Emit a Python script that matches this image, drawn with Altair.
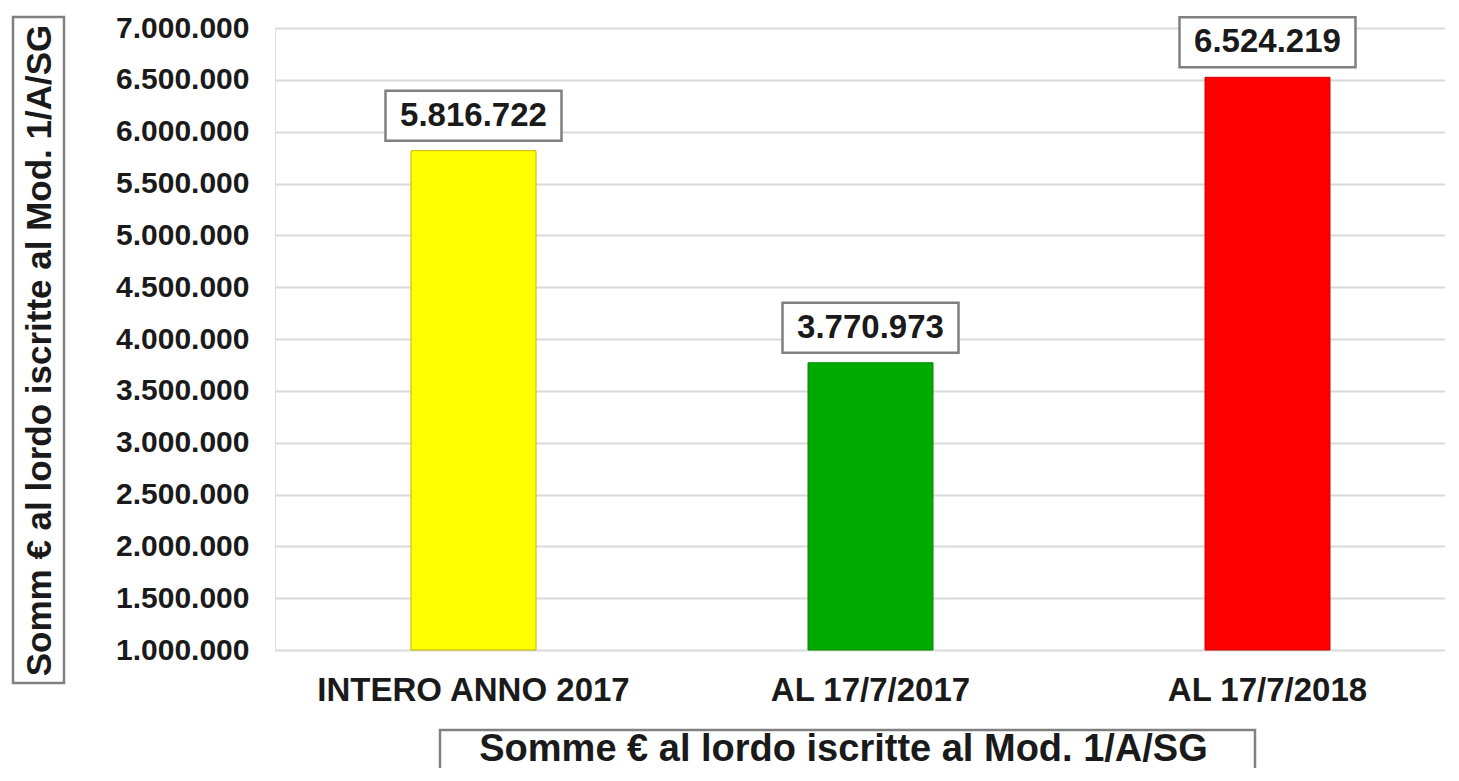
import altair as alt
import pandas as pd

categories = ["INTERO ANNO 2017", "AL 17/7/2017", "AL 17/7/2018"]
values = [5816722, 3770973, 6524219]
bar_colors = ["#FFFF00", "#00AA00", "#FF0000"]
bar_edges = ["#C8B400", "#008A00", "#D00000"]
y_ticks = [1000000, 1500000, 2000000, 2500000, 3000000, 3500000, 4000000,
           4500000, 5000000, 5500000, 6000000, 6500000, 7000000]
y_title = "Somm € al lordo iscritte al Mod. 1/A/SG"
x_title = "Somme € al lordo iscritte al Mod. 1/A/SG"

FONT = "Liberation Sans"
TXT = "#1a1a1a"
BOX = "#808080"

df = pd.DataFrame({
    "cat": categories,
    "value": values,
    "label": [f"{v:,}".replace(",", ".") for v in values],
})

W, H = 1170, 622

x_enc = alt.X(
    "cat:N", sort=categories,
    scale=alt.Scale(domain=categories, range=[0, 1191], paddingInner=0, paddingOuter=0),
    axis=alt.Axis(
        labelAngle=0, labelFont=FONT, labelFontSize=33, labelFontWeight="bold",
        labelColor=TXT, labelPadding=24, labelLimit=1000, domain=False, ticks=False,
        tickSize=0, grid=False, labelOverlap=False,
        title=x_title, titleFont=FONT, titleFontSize=38, titleFontWeight="bold",
        titleColor=TXT, titleX=568, titleY=110, titleAlign="center",
        titleBaseline="alphabetic", titleLimit=2000,
    ),
)
y_enc = alt.Y(
    "value:Q",
    scale=alt.Scale(domain=[1000000, 7000000], nice=False, zero=False),
    axis=alt.Axis(
        values=y_ticks, grid=True, gridColor="#d9d9d9", gridWidth=2,
        domain=False, ticks=False, tickSize=0,
        labelFont=FONT, labelFontSize=30, labelFontWeight="bold", labelColor=TXT,
        labelPadding=26,
        labelExpr="replace(format(datum.value, ','), regexp(',', 'g'), '.')",
        title=y_title, titleFont=FONT, titleFontSize=35, titleFontWeight="bold",
        titleColor=TXT, titleAngle=270, titleX=-236, titleY=322,
        titleAlign="center", titleBaseline="middle", titleLimit=2000,
    ),
)

bars = alt.Chart(df).mark_bar(size=125, strokeWidth=1).encode(
    x=x_enc,
    y=y_enc,
    y2=alt.datum(1000000),
    color=alt.Color("cat:N", scale=alt.Scale(domain=categories, range=bar_colors), legend=None),
    stroke=alt.Stroke("cat:N", scale=alt.Scale(domain=categories, range=bar_edges), legend=None),
)

box_path = "M-1,-0.682 L1,-0.682 L1,-0.114 L-1,-0.114 Z"
boxes = alt.Chart(df).mark_point(
    shape=box_path, size=176 * 176, filled=True, fill="white",
    stroke=BOX, strokeWidth=2.5, opacity=1,
).encode(x=x_enc, y=y_enc)

labels = alt.Chart(df).mark_text(
    font=FONT, fontSize=33, fontWeight="bold", color=TXT,
    baseline="middle", align="center", dy=-35,
).encode(x=x_enc, y=y_enc, text="label:N")

one = pd.DataFrame({"a": [0]})
ybox = alt.Chart(one).mark_rect(
    fill="white", fillOpacity=0, stroke=BOX, strokeWidth=2.5
).encode(
    x=alt.value(-262), x2=alt.value(-211), y=alt.value(-11), y2=alt.value(655)
)
xbox = alt.Chart(one).mark_rect(
    fill="white", fillOpacity=0, stroke=BOX, strokeWidth=2.5
).encode(
    x=alt.value(165), x2=alt.value(980), y=alt.value(702), y2=alt.value(800)
)

chart = alt.layer(bars, boxes, labels, ybox, xbox).properties(
    width=W, height=H,
    autosize=alt.AutoSizeParams(type="none"),
    padding={"left": 267, "top": 20, "right": 0, "bottom": 118},
).configure_view(stroke=None).configure(background="white")

chart.save("out.html", embed_options={"renderer": "svg", "actions": False})
